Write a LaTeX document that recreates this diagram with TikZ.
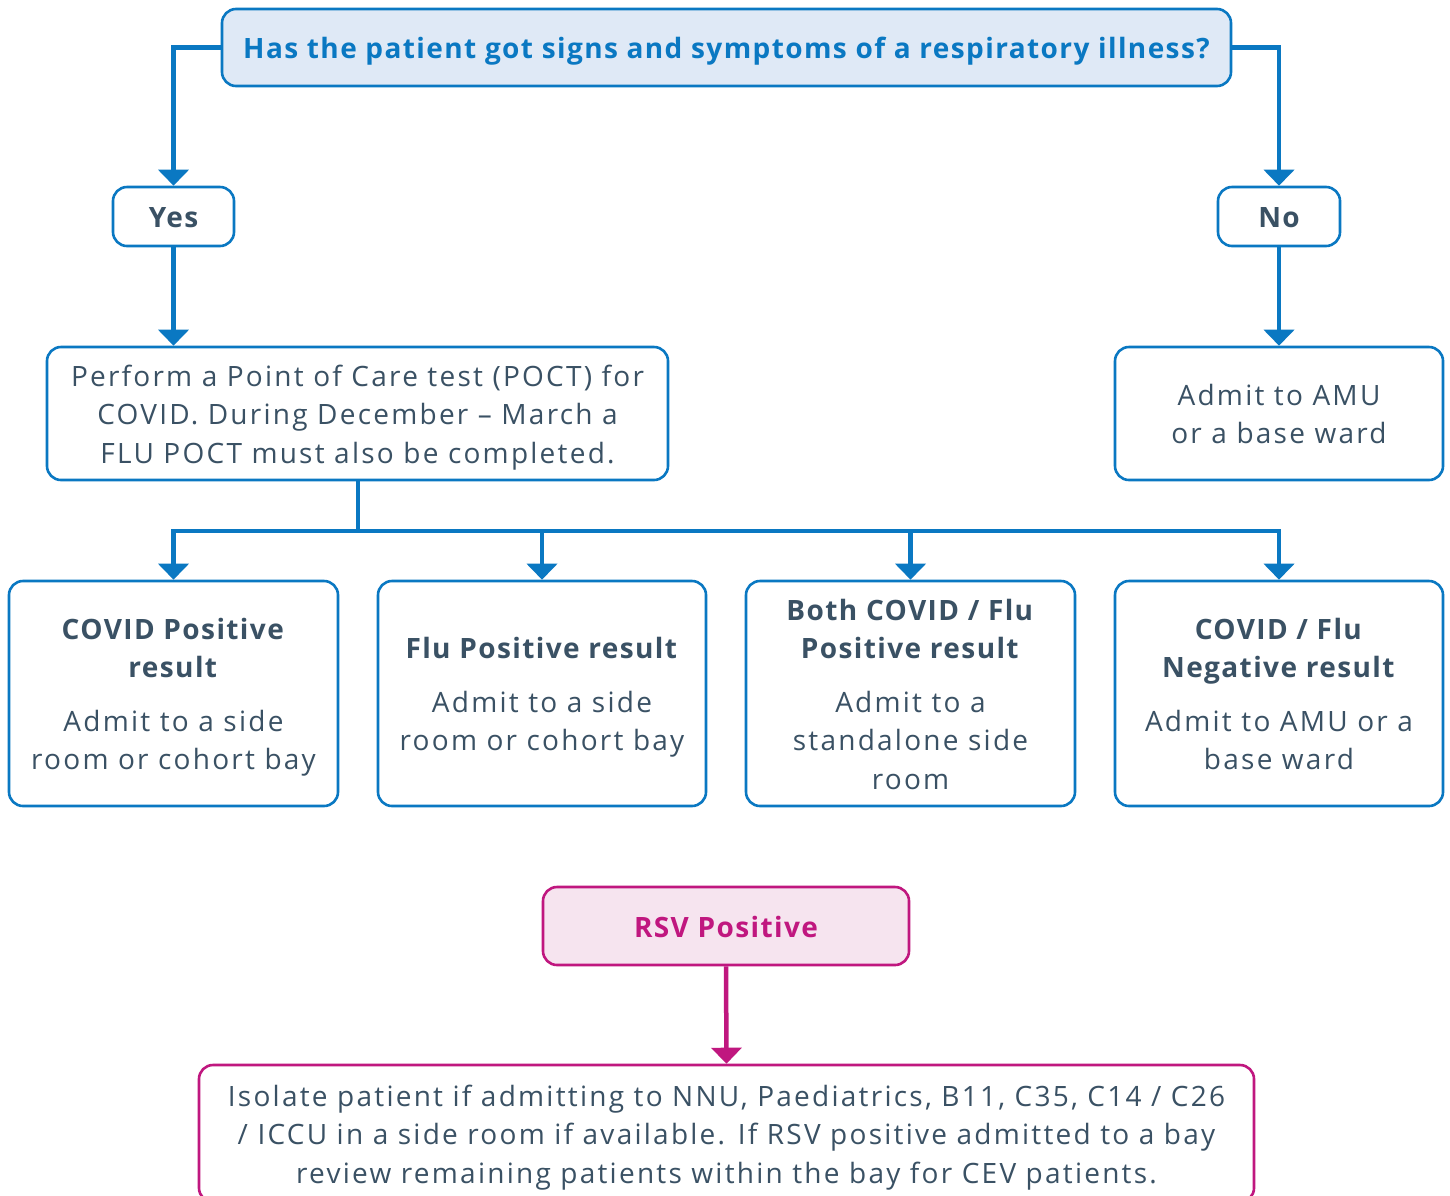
\documentclass[tikz,border=0pt]{standalone}
\usepackage{fontspec}
\setmainfont{Open Sans}[LetterSpace=8,BoldFeatures={LetterSpace=5}]
\usetikzlibrary{arrows.meta}
\definecolor{nhsblue}{HTML}{0A78C2}
\definecolor{topfill}{HTML}{DFE9F6}
\definecolor{txt}{HTML}{3A5164}
\definecolor{rsv}{HTML}{C0177F}
\definecolor{rsvfill}{HTML}{F6E4EF}
\newcommand\strA{\rule{0pt}{29pt}}
\newcommand\strZ{\rule[-7pt]{0pt}{7pt}}
\begin{document}
\begin{tikzpicture}[x=1pt,y=-1pt,
  box/.style={draw=nhsblue,line width=2.6pt,rounded corners=14pt,inner sep=0pt,align=center,text=txt,
    font=\fontsize{28}{38.5}\selectfont},
  bbox/.style={box,font=\fontsize{28}{38.5}\selectfont\bfseries},
  rbox/.style={box,draw=rsv},
  conn/.style={draw=nhsblue,line width=4.5pt},
  arr/.style={conn,-{Triangle[width=30pt,length=16pt]}},
  rarr/.style={draw=rsv,line width=4.5pt,-{Triangle[width=30pt,length=16pt]}}]
\useasboundingbox (0,0) rectangle (1450,1195);
\fill[white] (0,0) rectangle (1450,1195);
% nodes
\node[bbox,fill=topfill,text=nhsblue,minimum width=1009pt,minimum height=77pt] (top) at (726.5,47.5) {\strA Has the patient got signs and symptoms of a respiratory illness?\strZ};
\node[bbox,minimum width=121pt,minimum height=59pt] (yes) at (173.5,216.5) {\strA Yes\strZ};
\node[bbox,minimum width=122pt,minimum height=59pt] (no) at (1279,216.5) {\strA No\strZ};
\node[box,minimum width=621pt,minimum height=133pt] (perf) at (357.5,413.5) {\strA Perform a Point of Care test (POCT) for\\COVID. During December -- March a\\FLU POCT must also be completed.\strZ};
\node[box,minimum width=328pt,minimum height=133pt] (amu) at (1279,413.5) {\strA Admit to AMU\\or a base ward\strZ};
\node[box,minimum width=329pt,minimum height=225pt] (r1) at (173.5,693.5) {\strA\textbf{COVID Positive}\\\textbf{result}\\[15pt]Admit to a side\\room or cohort bay\strZ};
\node[box,minimum width=328pt,minimum height=225pt] (r2) at (542,693.5) {\strA\textbf{Flu Positive result}\\[15pt]Admit to a side\\room or cohort bay\strZ};
\node[box,minimum width=329pt,minimum height=225pt] (r3) at (910.5,693.5) {\strA\textbf{Both COVID / Flu}\\\textbf{Positive result}\\[15pt]Admit to a\\standalone side\\room\strZ};
\node[box,minimum width=328pt,minimum height=225pt] (r4) at (1279,693.5) {\strA\textbf{COVID / Flu}\\\textbf{Negative result}\\[15pt]Admit to AMU or a\\base ward\strZ};
\node[rbox,fill=rsvfill,text=rsv,minimum width=366pt,minimum height=78pt,font=\fontsize{28}{38.5}\selectfont\bfseries] (rsvn) at (726,926) {\strA RSV Positive\strZ};
\node[rbox,minimum width=1055pt,minimum height=137pt] (iso) at (726.5,1133.5) {\strA Isolate patient if admitting to NNU, Paediatrics, B11, C35, C14 / C26\\/ ICCU in a side room if available. If RSV positive admitted to a bay\\review remaining patients within the bay for CEV patients.\strZ};
% connectors
\draw[arr] (top.west) -| (yes.north);
\draw[arr] (top.east) -| (no.north);
\draw[arr] (yes.south) -- (perf.north -| yes.south);
\draw[arr] (no.south) -- (amu.north);
\coordinate (bus) at (358,531);
\draw[conn] (perf.south -| bus) -- (bus);
\draw[arr] (bus) -| (r1.north);
\draw[arr] (bus) -| (r2.north);
\draw[arr] (bus) -| (r3.north);
\draw[arr] (bus) -| (r4.north);
\draw[rarr] (rsvn.south) -- (iso.north);
\end{tikzpicture}
\end{document}
